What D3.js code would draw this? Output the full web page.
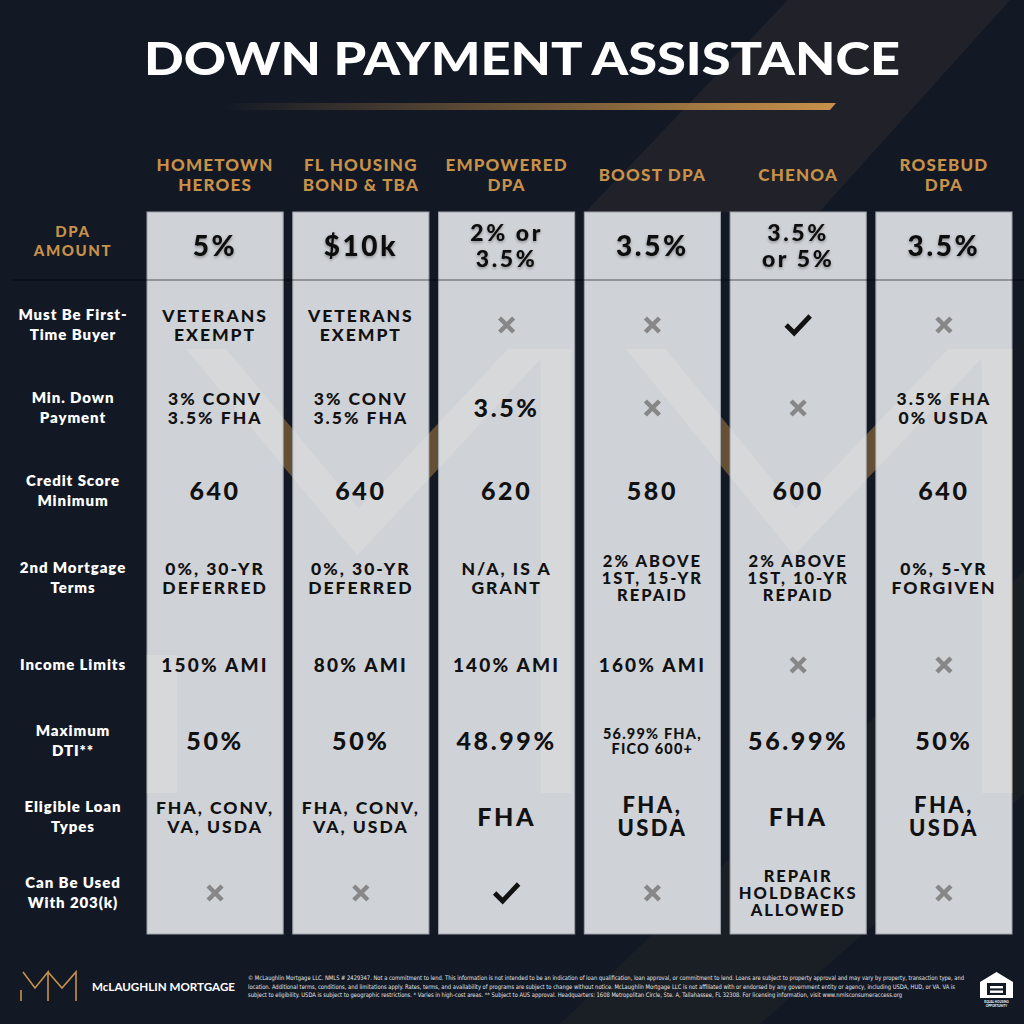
<!DOCTYPE html>
<html>
<head>
<meta charset="utf-8">
<script src="https://cdn.jsdelivr.net/npm/d3@7/dist/d3.min.js"></script>
<style>
  html, body { margin: 0; padding: 0; background: #121925; }
  svg { display: block; }
</style>
</head>
<body>
<svg id="chart" width="1024" height="1024"></svg>
<script>
// ---- data ----
const programs = ["HOMETOWN\nHEROES", "FL HOUSING\nBOND & TBA", "EMPOWERED\nDPA", "BOOST DPA", "CHENOA", "ROSEBUD\nDPA"];
const dpaAmounts = ["5%", "$10k", "2% or\n3.5%", "3.5%", "3.5%\nor 5%", "3.5%"];
const rowLabels = ["Must Be First-\nTime Buyer", "Min. Down\nPayment", "Credit Score\nMinimum", "2nd Mortgage\nTerms",
                   "Income Limits", "Maximum\nDTI**", "Eligible Loan\nTypes", "Can Be Used\nWith 203(k)"];
// X = not available, CHECK = yes
const firstTimeBuyer = ["VETERANS\nEXEMPT", "VETERANS\nEXEMPT", "X", "X", "CHECK", "X"];
const minDownPayment = ["3% CONV\n3.5% FHA", "3% CONV\n3.5% FHA", "3.5%", "X", "X", "3.5% FHA\n0% USDA"];
const creditScore = ["640", "640", "620", "580", "600", "640"];
const secondMortgage = ["0%, 30-YR\nDEFERRED", "0%, 30-YR\nDEFERRED", "N/A, IS A\nGRANT", "2% ABOVE\n1ST, 15-YR\nREPAID", "2% ABOVE\n1ST, 10-YR\nREPAID", "0%, 5-YR\nFORGIVEN"];
const incomeLimits = ["150% AMI", "80% AMI", "140% AMI", "160% AMI", "X", "X"];
const maxDTI = ["50%", "50%", "48.99%", "56.99% FHA,\nFICO 600+", "56.99%", "50%"];
const loanTypes = ["FHA, CONV,\nVA, USDA", "FHA, CONV,\nVA, USDA", "FHA", "FHA,\nUSDA", "FHA", "FHA,\nUSDA"];
const use203k = ["X", "X", "CHECK", "X", "REPAIR\nHOLDBACKS\nALLOWED", "X"];
const rows = [firstTimeBuyer, minDownPayment, creditScore, secondMortgage, incomeLimits, maxDTI, loanTypes, use203k];

const title = "DOWN PAYMENT ASSISTANCE";
const brand = "McLAUGHLIN MORTGAGE";
const disclaimer = [
  "© McLaughlin Mortgage LLC. NMLS # 2429347. Not a commitment to lend. This information is not intended to be an indication of loan qualification, loan approval, or commitment to lend. Loans are subject to property approval and may vary by property, transaction type, and",
  "location. Additional terms, conditions, and limitations apply. Rates, terms, and availability of programs are subject to change without notice. McLaughlin Mortgage LLC is not affiliated with or endorsed by any government entity or agency, including USDA, HUD, or VA. VA is",
  "subject to eligibility. USDA is subject to geographic restrictions. * Varies in high-cost areas. ** Subject to AUS approval. Headquarters: 1608 Metropolitan Circle, Ste. A, Tallahassee, FL 32308. For licensing information, visit www.nmlsconsumeraccess.org"
];

// ---- setup ----
const W = 1024, H = 1024;
const GOLD = "#c8914a", BG = "#121925", CELL = "#cfd2d7";
const FONT = "Lato, 'Noto Sans', sans-serif";

const svg = d3.select("#chart");
const defs = svg.append("defs");

const grad = defs.append("linearGradient").attr("id", "goldLine");
grad.append("stop").attr("offset", "0%").attr("stop-color", GOLD).attr("stop-opacity", 0);
grad.append("stop").attr("offset", "100%").attr("stop-color", GOLD).attr("stop-opacity", 1);

const shadow = defs.append("filter").attr("id", "shadow").attr("x", "-20%").attr("y", "-20%").attr("width", "140%").attr("height", "140%");
shadow.append("feDropShadow").attr("dx", 0).attr("dy", 1.5).attr("stdDeviation", 1.5)
  .attr("flood-color", "#000").attr("flood-opacity", 0.35);

// scales
const x = d3.scaleBand().domain(d3.range(programs.length)).range([147, 1012]).paddingInner(0.066);
const y = d3.scaleLinear().domain([0, 2, 4, 7]).range([325, 491, 665, 893]);
const tableTop = 212, headBottom = 280, tableBottom = 934;
const dpaY = (tableTop + headBottom) / 2;
const labelX = 73;

// background
svg.append("rect").attr("width", W).attr("height", H).attr("fill", BG);
svg.append("polygon")
  .attr("points", [[788, 0], [1010, 0], [1010 - 0.9 * tableTop, tableTop], [788 - 0.955 * tableTop, tableTop]].join(" "))
  .attr("fill", "#24252a").attr("opacity", 0.85);
svg.append("polygon")
  .attr("points", [[1040, 555], [1040, 780], [760, 1024], [560, 1024]].join(" "))
  .attr("fill", "#1c1f26").attr("opacity", 0.9);

// title
svg.append("text")
  .attr("x", W / 2 + 10).attr("y", 75)
  .attr("text-anchor", "middle")
  .attr("font-family", FONT).attr("font-weight", 900).attr("font-size", 46)
  .attr("textLength", 756).attr("lengthAdjust", "spacingAndGlyphs")
  .attr("fill", "#fff").text(title);
svg.append("polygon")
  .attr("points", "222,103 836,103 830,110 222,110")
  .attr("fill", "url(#goldLine)");

// big MM watermark (centre lines of the strokes)
const mark = [
  [[162, 655], [162, 800]],
  [[182, 320], [358, 532], [556, 320], [556, 800]],
  [[622, 320], [795, 532], [997, 320], [997, 800]]
];
const markLine = d3.line();
defs.append("clipPath").attr("id", "markClip")
  .append("rect").attr("x", 0).attr("y", 349).attr("width", W).attr("height", 444);
defs.append("clipPath").attr("id", "cellClip")
  .selectAll("rect").data(programs).join("rect")
  .attr("x", (d, i) => x(i)).attr("y", tableTop).attr("width", x.bandwidth()).attr("height", tableBottom - tableTop);

function drawMark(g, color, op) {
  g.selectAll("path").data(mark).join("path")
    .attr("d", markLine)
    .attr("fill", "none").attr("stroke", color).attr("stroke-width", 31)
    .attr("stroke-linejoin", "miter").attr("stroke-miterlimit", 10)
    .attr("opacity", op);
}
drawMark(svg.append("g").attr("clip-path", "url(#markClip)"), GOLD, 0.46);

// columns
svg.append("g").selectAll("rect").data(programs).join("rect")
  .attr("x", (d, i) => x(i)).attr("y", tableTop)
  .attr("width", x.bandwidth()).attr("height", tableBottom - tableTop)
  .attr("fill", CELL).attr("stroke", "#9da2aa").attr("stroke-width", 1);

drawMark(svg.append("g").attr("clip-path", "url(#cellClip)")
  .append("g").attr("clip-path", "url(#markClip)"), "#f2ede6", 0.22);

// divider under DPA amount row
svg.append("line")
  .attr("x1", 13).attr("x2", W).attr("y1", headBottom).attr("y2", headBottom)
  .attr("stroke", "#000").attr("stroke-opacity", 0.6).attr("stroke-width", 1.2);

// multi-line text helper, block centred on cy
function multiText(g, str, cx, cy, size, lh, opts) {
  const lines = str.split("\n");
  const t = g.append("text")
    .attr("text-anchor", "middle")
    .attr("font-family", FONT)
    .attr("font-weight", opts.weight || 900)
    .attr("font-size", size)
    .attr("letter-spacing", opts.ls || 0)
    .attr("fill", opts.fill || "#111");
  const first = cy - (lines.length - 1) * lh / 2 + size * 0.36;
  lines.forEach((l, k) => {
    t.append("tspan").attr("x", cx).attr("y", first + k * lh).text(l);
  });
  return t;
}

// column headings
const head = svg.append("g");
programs.forEach((p, i) => {
  multiText(head, p, x(i) + x.bandwidth() / 2, 175, 17, 20, { fill: GOLD, weight: 900, ls: 1.2 });
});

// DPA row
multiText(svg, "DPA\nAMOUNT", labelX, 241, 15, 19, { fill: GOLD, weight: 900, ls: 1.6 });
const dpaG = svg.append("g").attr("filter", "url(#shadow)");
dpaAmounts.forEach((v, i) => {
  const two = v.includes("\n");
  multiText(dpaG, v, x(i) + x.bandwidth() / 2, dpaY, two ? 23 : 28, 26, { ls: 2.6 });
});

// row labels
const lab = svg.append("g");
rowLabels.forEach((r, j) => {
  multiText(lab, r, labelX, y(j), 15, 20, { fill: "#fff", weight: 800, ls: 0.9 });
});

// cell size rules
function cellSize(v) {
  const lines = v.split("\n");
  const longest = d3.max(lines, l => l.length);
  if (lines.length === 1) return longest <= 6 ? { s: 25, lh: 0, ls: 2.6 } : { s: 19, lh: 0, ls: 2.2 };
  if (longest >= 11) return { s: 14.5, lh: 15, ls: 1.2 };
  if (lines.length === 3) return { s: 16.5, lh: 17, ls: 2 };
  if (longest <= 5) return { s: 22, lh: 23, ls: 2.4 };
  return { s: 17.5, lh: 18.5, ls: 2 };
}

const cells = svg.append("g");
rows.forEach((row, j) => {
  row.forEach((v, i) => {
    const cx = x(i) + x.bandwidth() / 2, cy = y(j);
    if (v === "X") {
      cells.append("path")
        .attr("d", `M${cx - 7},${cy - 7}L${cx + 7},${cy + 7}M${cx + 7},${cy - 7}L${cx - 7},${cy + 7}`)
        .attr("stroke", "#878787").attr("stroke-width", 4.5).attr("fill", "none");
    } else if (v === "CHECK") {
      cells.append("path")
        .attr("d", `M${cx - 12},${cy}L${cx - 4},${cy + 8}L${cx + 12},${cy - 9}`)
        .attr("stroke", "#111").attr("stroke-width", 4.8).attr("fill", "none")
        .attr("stroke-linejoin", "miter");
    } else {
      const c = cellSize(v);
      multiText(cells, v, cx, cy, c.s, c.lh, { ls: c.ls });
    }
  });
});

// footer logo
const logo = svg.append("g").attr("stroke", GOLD).attr("stroke-width", 1.6).attr("fill", "none");
[[[21, 990], [21, 1001]],
 [[23, 972], [35, 988], [48, 972], [48, 1001]],
 [[48, 972], [62, 988], [76, 972], [76, 1001]]].forEach(p => logo.append("path").attr("d", d3.line()(p)));

svg.append("text").attr("x", 92).attr("y", 990.5)
  .attr("font-family", FONT).attr("font-weight", 700).attr("font-size", 12)
  .attr("textLength", 143).attr("lengthAdjust", "spacingAndGlyphs")
  .attr("fill", "#fff").text(brand);

const discLen = [716, 707, 654];
disclaimer.forEach((l, k) => {
  svg.append("text").attr("x", 248).attr("y", 980 + k * 8.6)
    .attr("font-family", "'Liberation Sans Narrow', 'DejaVu Sans Condensed', sans-serif")
    .attr("font-size", 6.2).attr("fill", "#e6e6e6")
    .attr("textLength", discLen[k]).attr("lengthAdjust", "spacingAndGlyphs")
    .text(l);
});

// equal housing mark
const eh = svg.append("g");
eh.append("path").attr("d", "M996.5,972 L1013,982 L1013,998 L980,998 L980,982 Z").attr("fill", "#fff");
eh.append("rect").attr("x", 987).attr("y", 983).attr("width", 19).attr("height", 12).attr("fill", BG);
eh.append("rect").attr("x", 990).attr("y", 986).attr("width", 13).attr("height", 2.4).attr("fill", "#fff");
eh.append("rect").attr("x", 990).attr("y", 990.5).attr("width", 13).attr("height", 2.4).attr("fill", "#fff");
eh.append("text").attr("x", 996.5).attr("y", 1003).attr("text-anchor", "middle")
  .attr("font-family", FONT).attr("font-weight", 700).attr("font-size", 3).attr("fill", "#fff").text("EQUAL HOUSING");
eh.append("text").attr("x", 996.5).attr("y", 1006.5).attr("text-anchor", "middle")
  .attr("font-family", FONT).attr("font-weight", 700).attr("font-size", 3).attr("fill", "#fff").text("OPPORTUNITY");
</script>
</body>
</html>
